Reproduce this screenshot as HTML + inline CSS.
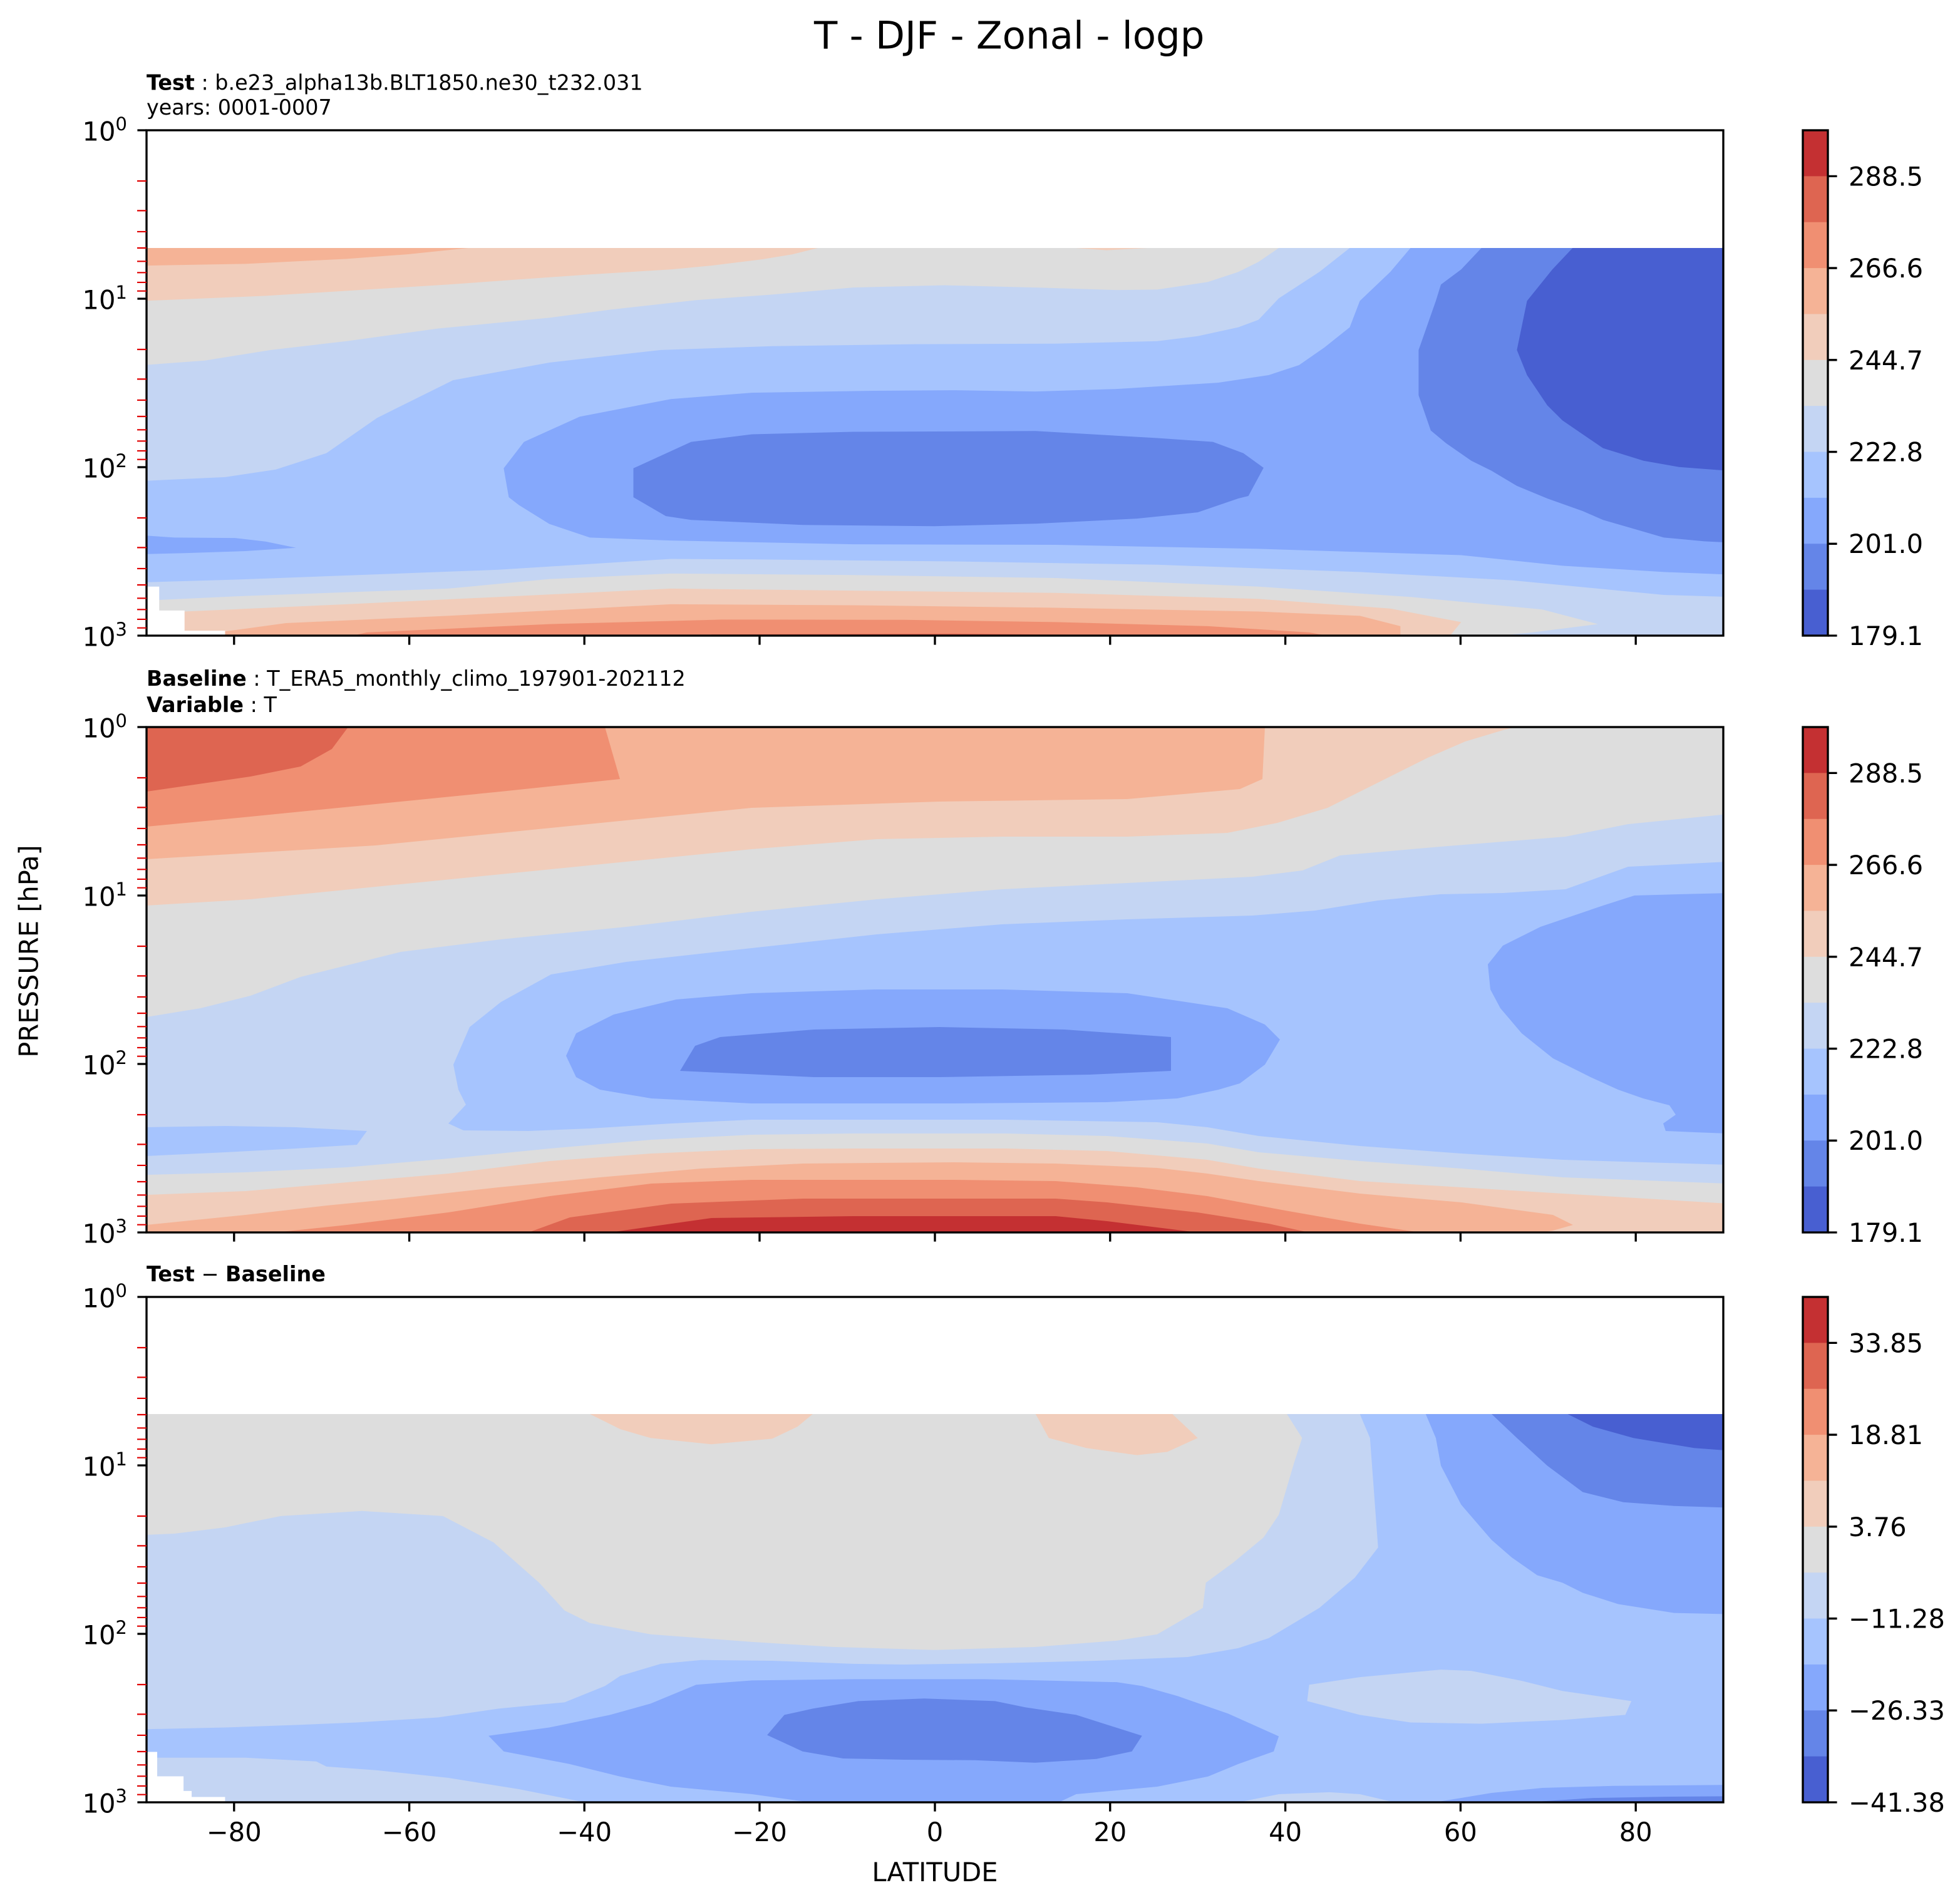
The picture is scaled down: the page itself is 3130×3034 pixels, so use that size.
<!DOCTYPE html>
<html><head><meta charset="utf-8"><style>html,body{margin:0;padding:0;background:#fff}svg{display:block}</style></head><body>
<svg xmlns="http://www.w3.org/2000/svg" xmlns:xlink="http://www.w3.org/1999/xlink" width="3130" height="3034" viewBox="0 0 1565 1517" font-family="'DejaVu Sans','Liberation Sans',sans-serif">
<rect width="1565" height="1517" fill="#fff"/>
<defs>
<clipPath id="c1"><rect x="117" y="198" width="1259" height="309.5"/></clipPath>
<clipPath id="c2"><rect x="117" y="580.5" width="1259" height="403.5"/></clipPath>
<clipPath id="c3"><rect x="117" y="1129" width="1259" height="310"/></clipPath>
<path id="mt" d="M109.5 40.49H117M109.5 64.17H117M109.5 80.98H117M109.5 94.01H117M109.5 104.66H117M109.5 113.66H117M109.5 121.46H117M109.5 128.34H117M109.5 174.99H117M109.5 198.67H117M109.5 215.48H117M109.5 228.51H117M109.5 239.16H117M109.5 248.16H117M109.5 255.96H117M109.5 262.84H117M109.5 309.49H117M109.5 333.17H117M109.5 349.98H117M109.5 363.01H117M109.5 373.66H117M109.5 382.66H117M109.5 390.46H117M109.5 397.34H117" stroke="#e00000" stroke-width="1.1" fill="none"/>
<path id="yt" d="M109.7 0H117M109.7 134.5H117M109.7 269H117M109.7 403.5H117" stroke="#000" stroke-width="1.67" fill="none"/>
<path id="xt" d="M186.9 0v7.3M326.8 0v7.3M466.6 0v7.3M606.5 0v7.3M746.5 0v7.3M886.4 0v7.3M1026.3 0v7.3M1166.2 0v7.3M1306.1 0v7.3" stroke="#000" stroke-width="1.67" fill="none"/>
<g id="cb">
<rect x="1439.5" y="0" width="20" height="37" fill="#c43032"/>
<rect x="1439.5" y="36.68" width="20" height="37" fill="#de6551"/>
<rect x="1439.5" y="73.36" width="20" height="37" fill="#f08f72"/>
<rect x="1439.5" y="110.05" width="20" height="37" fill="#f5b396"/>
<rect x="1439.5" y="146.73" width="20" height="37" fill="#f1cdbb"/>
<rect x="1439.5" y="183.41" width="20" height="37" fill="#dddddd"/>
<rect x="1439.5" y="220.09" width="20" height="37" fill="#c4d5f3"/>
<rect x="1439.5" y="256.77" width="20" height="37" fill="#a6c4fe"/>
<rect x="1439.5" y="293.45" width="20" height="37" fill="#85a8fc"/>
<rect x="1439.5" y="330.14" width="20" height="37" fill="#6485e8"/>
<rect x="1439.5" y="366.82" width="20" height="36.68" fill="#485fd1"/>
<rect x="1439.5" y="0" width="20" height="403.5" fill="none" stroke="#000" stroke-width="1.67"/>
<path d="M1459.5 36.68h7.3M1459.5 110.05h7.3M1459.5 183.41h7.3M1459.5 256.77h7.3M1459.5 330.14h7.3M1459.5 403.5h7.3" stroke="#000" stroke-width="1.67"/>
</g>
</defs>

<!-- Suptitle -->
<text x="650" y="38.7" font-size="30.5" fill="#000">T - DJF - Zonal - logp</text>

<!-- ============ PANEL 1 ============ -->
<text x="117" y="71.7" font-size="16.7"><tspan font-weight="bold">Test</tspan> : b.e23_alpha13b.BLT1850.ne30_t232.031</text>
<text x="117" y="91.5" font-size="16.7">years: 0001-0007</text>
<g clip-path="url(#c1)"><g transform="translate(115 195) scale(0.809 0.201)">
<rect x="0" y="0" width="1600" height="1600" fill="#dddddd"/>
<polygon fill="#f1cdbb" points="0,0 670,0 665,15 640,40 610,60 560,85 520,100 440,120 300,160 120,205 0,225"/>
<polygon fill="#f1cdbb" points="915,0 920,15 950,24 990,15 995,0"/>
<polygon fill="#f5b396" points="0,0 325,0 320,15 260,40 200,58 100,78 0,85"/>
<polygon fill="#c4d5f3" points="0,480 60,462 125,420 200,385 290,335 400,292 460,260 545,222 620,200 700,172 790,163 880,172 960,182 1000,180 1050,150 1080,110 1100,70 1120,15 1125,0 1600,0 1600,1600 1340,1600 1340,1558 1350,1550 1370,1542 1435,1509 1380,1451 1250,1401 1100,1360 1000,1343 900,1326 700,1314 520,1308 400,1330 300,1368 100,1397 15,1413 0,1415"/>
<polygon fill="#a6c4fe" points="0,940 80,925 130,895 180,830 230,690 305,540 400,470 510,420 620,405 760,397 900,395 1000,385 1040,365 1080,330 1100,300 1120,215 1160,110 1190,15 1195,0 1600,0 1600,1401 1564,1401 1500,1393 1350,1335 1200,1302 1000,1273 800,1260 600,1252 520,1250 350,1293 100,1331 0,1343"/>
<polygon fill="#85a8fc" points="1250,0 1250,15 1230,110 1200,225 1190,330 1165,410 1140,480 1110,520 1060,550 960,575 880,585 800,580 720,582 600,590 520,615 430,685 375,785 355,890 360,1005 370,1036 400,1111 440,1165 520,1177 700,1192 900,1194 1100,1210 1300,1235 1400,1277 1500,1302 1564,1312 1600,1312 1600,0"/>
<polygon fill="#85a8fc" points="0,1157 30,1165 90,1167 120,1181 150,1206 100,1219 40,1227 0,1231"/>
<polygon fill="#6485e8" points="540,785 600,755 700,745 880,742 1000,770 1055,785 1085,830 1105,888 1090,1000 1080,1010 1040,1065 980,1090 880,1110 780,1120 650,1115 540,1095 515,1080 483,1005 483,890"/>
<polygon fill="#6485e8" points="1320,0 1320,15 1300,100 1280,160 1275,225 1258,420 1258,600 1270,740 1285,790 1310,860 1330,900 1355,960 1385,1010 1420,1060 1440,1095 1470,1130 1500,1165 1540,1180 1564,1185 1600,1185 1600,0"/>
<polygon fill="#485fd1" points="1410,0 1410,15 1390,100 1365,225 1355,420 1365,520 1385,640 1400,700 1440,810 1480,860 1515,885 1564,900 1600,900 1600,0"/>
<polygon fill="#f1cdbb" points="0,1459 40,1459 200,1430 350,1401 520,1368 700,1376 900,1385 1100,1409 1230,1447 1300,1501 1290,1550 1288,1600 0,1600"/>
<polygon fill="#f5b396" points="80,1538 140,1505 300,1476 520,1430 700,1434 900,1444 1100,1459 1200,1476 1240,1517 1240,1600 80,1600"/>
<polygon fill="#f08f72" points="200,1560 220,1542 400,1509 570,1491 750,1492 900,1501 1050,1517 1150,1542 1175,1560 1175,1600 200,1600"/>
<polygon fill="#de6551" points="560,1550 800,1547 940,1552 945,1600 555,1600"/>
<polygon fill="#ffffff" points="0,1360 15,1360 15,1455 40,1455 40,1535 80,1535 80,1600 0,1600"/>
</g></g>
<rect x="117" y="104" width="1259" height="403.5" fill="none" stroke="#000" stroke-width="1.67"/>
<use xlink:href="#mt" transform="translate(0 104)"/>
<use xlink:href="#yt" transform="translate(0 104)"/>
<use xlink:href="#xt" transform="translate(0 507.5)"/>
<g font-size="20.8" text-anchor="end">
<text x="101.5" y="112.3">10<tspan dy="-8.3" font-size="14.6">0</tspan></text>
<text x="101.5" y="246.8">10<tspan dy="-8.3" font-size="14.6">1</tspan></text>
<text x="101.5" y="381.3">10<tspan dy="-8.3" font-size="14.6">2</tspan></text>
<text x="101.5" y="515.8">10<tspan dy="-8.3" font-size="14.6">3</tspan></text>
</g>
<use xlink:href="#cb" transform="translate(0 104)"/>
<g font-size="20.8">
<text x="1476" y="148.2">288.5</text>
<text x="1476" y="221.5">266.6</text>
<text x="1476" y="294.9">244.7</text>
<text x="1476" y="368.3">222.8</text>
<text x="1476" y="441.6">201.0</text>
<text x="1476" y="515">179.1</text>
</g>

<!-- ============ PANEL 2 ============ -->
<text x="117" y="547.5" font-size="16.7"><tspan font-weight="bold">Baseline</tspan> : T_ERA5_monthly_climo_197901-202112</text>
<text x="117" y="568.5" font-size="16.7"><tspan font-weight="bold">Variable</tspan> : T</text>
<g clip-path="url(#c2)">
<rect x="117" y="575" width="1265" height="420" fill="#dddddd"/>
<polygon fill="#f1cdbb" points="117,575 1215,575 1210,580.5 1200,583 1170,592 1140,605 1100,625 1060,645 1020,657 980,665 900,668 800,668 700,670 600,678 500,688 400,698 300,708 200,718 117,723"/>
<polygon fill="#f5b396" points="117,575 1012,575 1010,580.5 1008,622 990,630 900,638 750,640 600,645 450,660 300,675 117,686"/>
<polygon fill="#f08f72" points="117,575 483,575 483,580.5 495,622 400,632 300,642 200,652 117,660"/>
<polygon fill="#de6551" points="117,575 278,575 278,580.5 265,598 240,612 200,620 117,632"/>
<polygon fill="#c4d5f3" points="117,812 160,805 200,795 240,780 320,760 400,750 500,740 600,728 700,718 800,710 900,705 1000,700 1040,695 1070,683 1150,676 1250,668 1300,658 1380,650 1380,945 1248,940 1167,933 1086,927 1005,920 964,913 884,907 803,905 681,905 600,906 520,910 439,917 358,925 277,932 196,936 117,938"/>
<polygon fill="#a6c4fe" points="370,902.5 358,897 372,882 366,870 362,850 375,820 400,800 440,778 500,768 600,757 700,746 800,738 900,734 1000,731 1050,727 1100,719 1150,714 1200,713 1250,710 1300,692 1380,688 1380,930 1248,926 1167,921 1086,915 1005,907 964,900 924,896 803,894 600,894 536,897 471,901 422,903"/>
<polygon fill="#a6c4fe" points="117,900 180,899 236,900 293,903 285,914 236,917 180,920 117,923"/>
<polygon fill="#85a8fc" points="452,843 460,825 490,810 540,798 600,793 700,790 800,790 900,793 980,805 1010,818 1022,830 1010,850 990,865 973,870 940,877 884,880 762,881 600,881 520,877 479,870 460,860"/>
<polygon fill="#85a8fc" points="1380,713 1340,714 1305,715 1280,723 1230,740 1200,755 1188,770 1190,790 1198,805 1215,825 1240,845 1270,860 1292,870 1312,877 1333,882.5 1338,890 1328,897 1330,903 1353,904 1380,905"/>
<polygon fill="#6485e8" points="543,855 555,835 575,828 650,822 750,820 850,822 935,828 935,855 870,858 750,860 650,860"/>
<polygon fill="#f1cdbb" points="117,954 196,951 277,944 358,937 439,927 520,921 600,917.5 681,917 803,917 884,919 964,926 1005,933 1086,943 1167,948 1248,953 1380,961 1380,990 117,990"/>
<polygon fill="#f5b396" points="117,978 196,970 261,962.5 317,957 398,948 479,940 560,933 641,929 762,928 843,929 924,932.5 964,937 1005,943 1086,953 1167,960 1240,970 1256,978 1240,982.5 1231,984 1231,990 117,990"/>
<polygon fill="#f08f72" points="220,984 277,978 358,968 439,955 520,945 600,942 762,942 843,943 908,948 964,955 1029,967 1086,977 1134,984 1134,990 220,990"/>
<polygon fill="#de6551" points="422,984 455,972 536,961 641,957 843,957 884,960 956,968 1013,977 1045,984 1045,990 422,990"/>
<polygon fill="#c43032" points="487,984 568,972.5 681,971 843,971 884,975 924,980 956,984 956,990 487,990"/>
</g>
<rect x="117" y="580.5" width="1259" height="403.5" fill="none" stroke="#000" stroke-width="1.67"/>
<use xlink:href="#mt" transform="translate(0 580.5)"/>
<use xlink:href="#yt" transform="translate(0 580.5)"/>
<use xlink:href="#xt" transform="translate(0 984)"/>
<g font-size="20.8" text-anchor="end">
<text x="101.5" y="588.8">10<tspan dy="-8.3" font-size="14.6">0</tspan></text>
<text x="101.5" y="723.3">10<tspan dy="-8.3" font-size="14.6">1</tspan></text>
<text x="101.5" y="857.8">10<tspan dy="-8.3" font-size="14.6">2</tspan></text>
<text x="101.5" y="992.3">10<tspan dy="-8.3" font-size="14.6">3</tspan></text>
</g>
<use xlink:href="#cb" transform="translate(0 580.5)"/>
<g font-size="20.8">
<text x="1476" y="624.7">288.5</text>
<text x="1476" y="698">266.6</text>
<text x="1476" y="771.4">244.7</text>
<text x="1476" y="844.8">222.8</text>
<text x="1476" y="918.1">201.0</text>
<text x="1476" y="991.5">179.1</text>
</g>

<!-- ============ PANEL 3 ============ -->
<text x="117" y="1023" font-size="16.7"><tspan font-weight="bold">Test</tspan> − <tspan font-weight="bold">Baseline</tspan></text>
<g clip-path="url(#c3)"><g transform="translate(115 1125) scale(0.809 0.201)">
<rect x="0" y="0" width="1600" height="1600" fill="#c4d5f3"/>
<polygon fill="#dddddd" points="0,0 1128,0 1128,20 1143,115 1135,215 1120,420 1105,510 1075,610 1048,690 1045,790 1000,895 960,920 880,945 780,957 680,945 600,925 500,895 440,850 415,800 390,690 345,530 295,425 215,405 135,425 80,470 30,495 0,500"/>
<polygon fill="#f1cdbb" points="440,0 440,20 470,80 500,115 560,140 620,118 645,70 660,20 660,0"/>
<polygon fill="#f1cdbb" points="880,0 880,20 893,115 930,155 980,183 1010,170 1040,115 1015,20 1015,0"/>
<polygon fill="#a6c4fe" points="1200,0 1200,20 1210,115 1218,550 1195,670 1160,790 1110,910 1080,950 1030,985 940,1000 840,1010 750,1015 700,1012 620,1000 550,997 510,1012 470,1060 455,1100 415,1165 350,1190 290,1225 210,1245 150,1255 80,1265 0,1272 0,1385 20,1385 100,1385 170,1400 180,1420 230,1435 300,1465 370,1510 430,1558 435,1600 1600,1600 1600,0"/>
<polygon fill="#c4d5f3" points="1150,1095 1200,1065 1280,1035 1310,1040 1360,1080 1400,1120 1468,1160 1462,1215 1400,1235 1320,1250 1250,1245 1200,1215 1148,1160"/>
<polygon fill="#c4d5f3" points="1085,1600 1085,1558 1120,1530 1170,1522 1200,1530 1230,1558 1230,1600"/>
<polygon fill="#85a8fc" points="1265,0 1265,20 1275,115 1280,225 1300,380 1330,520 1350,590 1375,660 1400,690 1420,730 1455,775 1510,810 1564,815 1600,815 1600,0"/>
<polygon fill="#85a8fc" points="340,1298 400,1265 460,1215 500,1170 545,1095 600,1078 700,1073 830,1073 960,1085 985,1100 1020,1140 1070,1210 1120,1300 1115,1360 1080,1410 1050,1460 1000,1500 920,1530 905,1558 905,1600 650,1600 650,1558 600,1530 520,1500 470,1460 420,1410 355,1360"/>
<polygon fill="#85a8fc" points="1280,1600 1280,1558 1330,1525 1380,1505 1450,1497 1564,1493 1600,1493 1600,1600"/>
<polygon fill="#6485e8" points="1330,0 1330,20 1355,115 1385,225 1420,330 1460,370 1510,385 1564,392 1600,392 1600,0"/>
<polygon fill="#6485e8" points="632,1215 660,1190 705,1160 770,1150 840,1160 870,1185 920,1215 985,1298 975,1360 940,1390 880,1405 820,1395 750,1393 690,1388 650,1360 615,1295"/>
<polygon fill="#6485e8" points="1380,1600 1380,1558 1430,1545 1500,1540 1564,1538 1600,1538 1600,1600"/>
<polygon fill="#485fd1" points="1405,0 1405,20 1430,70 1470,115 1530,155 1564,165 1600,165 1600,0"/>
<polygon fill="#ffffff" points="0,1362 13,1362 13,1459 39,1459 39,1517 47,1517 47,1541 80,1541 80,1600 0,1600"/>
</g></g>
<rect x="117" y="1035.5" width="1259" height="403.5" fill="none" stroke="#000" stroke-width="1.67"/>
<use xlink:href="#mt" transform="translate(0 1035.5)"/>
<use xlink:href="#yt" transform="translate(0 1035.5)"/>
<use xlink:href="#xt" transform="translate(0 1439)"/>
<g font-size="20.8" text-anchor="end">
<text x="101.5" y="1043.8">10<tspan dy="-8.3" font-size="14.6">0</tspan></text>
<text x="101.5" y="1178.3">10<tspan dy="-8.3" font-size="14.6">1</tspan></text>
<text x="101.5" y="1312.8">10<tspan dy="-8.3" font-size="14.6">2</tspan></text>
<text x="101.5" y="1447.3">10<tspan dy="-8.3" font-size="14.6">3</tspan></text>
</g>
<use xlink:href="#cb" transform="translate(0 1035.5)"/>
<g font-size="20.8">
<text x="1476" y="1079.7">33.85</text>
<text x="1476" y="1153">18.81</text>
<text x="1476" y="1226.4">3.76</text>
<text x="1476" y="1299.8">−11.28</text>
<text x="1476" y="1373.1">−26.33</text>
<text x="1476" y="1446.5">−41.38</text>
</g>

<!-- X tick labels -->
<g font-size="20.8" text-anchor="middle">
<text x="186.9" y="1470">−80</text>
<text x="326.8" y="1470">−60</text>
<text x="466.6" y="1470">−40</text>
<text x="606.5" y="1470">−20</text>
<text x="746.5" y="1470">0</text>
<text x="886.4" y="1470">20</text>
<text x="1026.3" y="1470">40</text>
<text x="1166.2" y="1470">60</text>
<text x="1306.1" y="1470">80</text>
</g>
<text x="746.5" y="1502" font-size="20.8" text-anchor="middle">LATITUDE</text>
<text transform="translate(30.3 759.5) rotate(-90)" font-size="20.8" text-anchor="middle">PRESSURE [hPa]</text>
</svg>
</body></html>
